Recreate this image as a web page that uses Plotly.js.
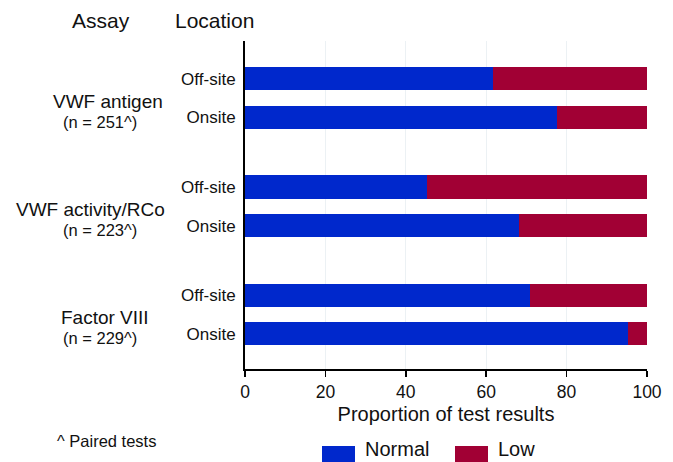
<!DOCTYPE html>
<html>
<head>
<meta charset="utf-8">
<script src="https://cdn.plot.ly/plotly-3.0.1.min.js"></script>
<style>html,body{margin:0;padding:0;background:#fff;}#chart{width:673px;height:462px;}</style>
</head>
<body>
<div id="chart"></div>
<script>
// ---- data ----
const assays = ["VWF antigen", "VWF activity/RCo", "Factor VIII"];
const assayN = ["(n = 251^)", "(n = 223^)", "(n = 229^)"];
const locations = ["Off-site", "Onsite"];
const seriesNames = ["Normal", "Low"];
// percent Normal / Low per assay, per location [Off-site, Onsite]
const normalPct = [[61.8, 77.7], [45.3, 68.2], [70.8, 95.3]];
const lowPct = [[38.2, 22.3], [54.7, 31.8], [29.2, 4.7]];
const xTicks = [0, 20, 40, 60, 80, 100];
const footnote = "^ Paired tests";
const headerAssay = "Assay";
const headerLocation = "Location";
const xTitle = "Proportion of test results";

// ---- layout helpers ----
const W = 673, H = 462;
const M = {l: 245, r: 26, t: 41, b: 93};
const plotH = H - M.t - M.b;
const plotW = W - M.l - M.r;
const pxX = x => (x - M.l) / plotW;
const pxY = y => (H - M.b - y) / plotH;
const groupStep = 2.8;
const FONT = "Liberation Sans, Arial, sans-serif";
const TXT = "#111";
const colors = ["#0028CC", "#A10034"];

const yPos = [], yText = [], normX = [], lowX = [];
assays.forEach((a, g) => {
  locations.forEach((loc, l) => {
    yPos.push(g * groupStep + l);
    yText.push(loc);
    normX.push(normalPct[g][l]);
    lowX.push(lowPct[g][l]);
  });
});

const traces = [normX, lowX].map((xs, i) => ({
  type: "bar", orientation: "h", name: seriesNames[i],
  x: xs, y: yPos, width: 0.6,
  marker: {color: colors[i], line: {width: 0}},
  showlegend: false, hoverinfo: "x+name"
}));

const annotations = [];
const nameX = [108, 90, 105];
assays.forEach((a, g) => {
  const yc = 79 + g * groupStep * 38.6;
  annotations.push({xref: "paper", yref: "paper", x: pxX(nameX[g]), y: pxY(yc + 22), text: a,
    showarrow: false, xanchor: "center", yanchor: "middle", font: {family: FONT, size: 19, color: TXT}});
  annotations.push({xref: "paper", yref: "paper", x: pxX(100), y: pxY(yc + 43), text: assayN[g],
    showarrow: false, xanchor: "center", yanchor: "middle", font: {family: FONT, size: 16.5, color: TXT}});
});
annotations.push({xref: "paper", yref: "paper", x: pxX(101), y: pxY(21), text: headerAssay,
  showarrow: false, xanchor: "center", yanchor: "middle", font: {family: FONT, size: 21, color: TXT}});
annotations.push({xref: "paper", yref: "paper", x: pxX(214), y: pxY(21), text: headerLocation,
  showarrow: false, xanchor: "center", yanchor: "middle", font: {family: FONT, size: 21, color: TXT}});
annotations.push({xref: "paper", yref: "paper", x: pxX(55), y: pxY(441), text: footnote,
  showarrow: false, xanchor: "left", yanchor: "middle", font: {family: FONT, size: 16.5, color: TXT}});

// custom legend
const shapes = [];
const legX = [322, 455];
seriesNames.forEach((n, i) => {
  shapes.push({type: "rect", xref: "paper", yref: "paper",
    x0: pxX(legX[i]), x1: pxX(legX[i] + 33), y0: pxY(463), y1: pxY(446),
    fillcolor: colors[i], line: {width: 0}});
  annotations.push({xref: "paper", yref: "paper", x: pxX(legX[i] + 41), y: pxY(462), text: n,
    showarrow: false, xanchor: "left", yanchor: "bottom", font: {family: FONT, size: 20, color: TXT}});
});

const layout = {
  width: W, height: H,
  margin: M,
  paper_bgcolor: "#fff", plot_bgcolor: "#fff",
  barmode: "stack", bargap: 0,
  font: {family: FONT, size: 17, color: TXT},
  xaxis: {
    range: [0, 100], tickvals: xTicks, ticktext: xTicks.map(String),
    showgrid: true, gridcolor: "#ecf1f4", gridwidth: 1, zeroline: false,
    showline: true, linecolor: "#000", linewidth: 2,
    ticks: "outside", ticklen: 6, tickwidth: 1.5, tickcolor: "#000",
    tickfont: {family: FONT, size: 17.5, color: TXT},
    title: {text: xTitle, font: {family: FONT, size: 20, color: TXT}, standoff: 6},
    fixedrange: true
  },
  yaxis: {
    range: [7.51, -0.98], tickvals: yPos, ticktext: yText,
    showgrid: false, zeroline: false,
    showline: true, linecolor: "#000", linewidth: 2,
    ticks: "", ticklabelstandoff: 4,
    tickfont: {family: FONT, size: 17, color: TXT},
    fixedrange: true
  },
  annotations: annotations,
  shapes: shapes
};

Plotly.newPlot("chart", traces, layout, {displayModeBar: false, staticPlot: true});
</script>
</body>
</html>
